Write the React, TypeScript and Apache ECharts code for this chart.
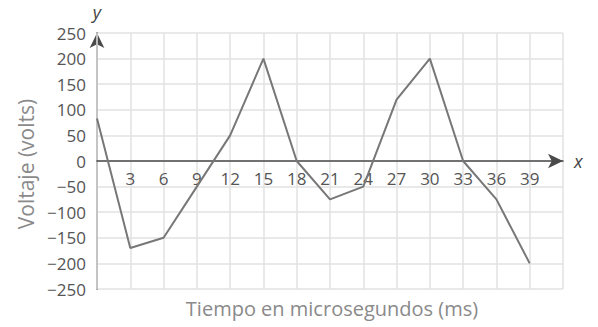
import React, { useEffect, useRef } from "react";
import * as echarts from "echarts";

const timeMs = [0, 3, 6, 9, 12, 15, 18, 21, 24, 27, 30, 33, 36, 39];
const voltage = [83, -170, -150, -50, 50, 200, 0, -75, -50, 120, 200, 0, -75, -200];
const xTitle = "Tiempo en microsegundos (ms)";
const yTitle = "Voltaje (volts)";

const FONT = "'Open Sans', 'Noto Sans', sans-serif";

export default function App() {
  const ref = useRef<HTMLDivElement>(null);
  useEffect(() => {
    if (!ref.current) return;
    const chart = echarts.init(ref.current, undefined, { renderer: "svg" });
    chart.setOption({
      animation: false,
      backgroundColor: "#ffffff",
      grid: { left: 97, right: 35, top: 33, bottom: 38 },
      xAxis: [
        {
          type: "value",
          min: 0,
          max: 42,
          interval: 3,
          position: "bottom",
          offset: -128,
          name: "x",
          nameLocation: "end",
          nameGap: 11,
          nameTextStyle: { fontFamily: FONT, fontSize: 18, fontStyle: "italic", color: "#444", verticalAlign: "middle" },
          axisLine: {
            onZero: false,
            lineStyle: { color: "#4a4a4a", width: 1.6 },
            symbol: ["none", "arrow"],
            symbolSize: [11, 15],
            symbolOffset: [0, 0],
          },
          axisTick: { show: false },
          axisLabel: {
            margin: 9,
            fontFamily: FONT,
            fontSize: 17,
            color: "#555",
            formatter: (v: number) => (v === 0 || v === 42 ? "" : String(v)),
          },
          splitLine: { show: true, lineStyle: { color: "#e2e2e2", width: 1.5 } },
          z: 2,
        },
      ],
      yAxis: {
        type: "value",
        min: -250,
        max: 250,
        interval: 50,
        name: "y",
        nameLocation: "end",
        nameGap: 12,
        nameTextStyle: { fontFamily: FONT, fontSize: 18, fontStyle: "italic", color: "#444", align: "center" },
        axisLine: {
          onZero: false,
          lineStyle: { color: "#4a4a4a", width: 1.6 },
          symbol: ["none", "arrow"],
          symbolSize: [11, 15],
          symbolOffset: [0, 0],
        },
        axisTick: { show: false },
        axisLabel: {
          margin: 11,
          fontFamily: FONT,
          fontSize: 17,
          color: "#555",
          formatter: (v: number) => String(v).replace("-", "\u2212"),
        },
        splitLine: { show: true, lineStyle: { color: "#e2e2e2", width: 1.5 } },
      },
      graphic: [
        {
          type: "text",
          x: 332,
          y: 308,
          style: {
            text: xTitle,
            fontFamily: FONT,
            fontSize: 20,
            fill: "#8a8a8a",
            align: "center",
            verticalAlign: "middle",
          },
        },
        {
          type: "text",
          x: 26,
          y: 164,
          rotation: Math.PI / 2,
          style: {
            text: yTitle,
            fontFamily: FONT,
            fontSize: 21,
            fill: "#8a8a8a",
            align: "center",
            verticalAlign: "middle",
          },
        },
      ],
      series: [
        {
          type: "line",
          data: timeMs.map((t, i) => [t, voltage[i]]),
          symbol: "none",
          lineStyle: { color: "#777", width: 2 },
          z: 3,
        },
      ],
    });
    return () => chart.dispose();
  }, []);
  return <div ref={ref} style={{ width: 598, height: 327, position: "absolute", left: 0, top: 0 }} />;
}
